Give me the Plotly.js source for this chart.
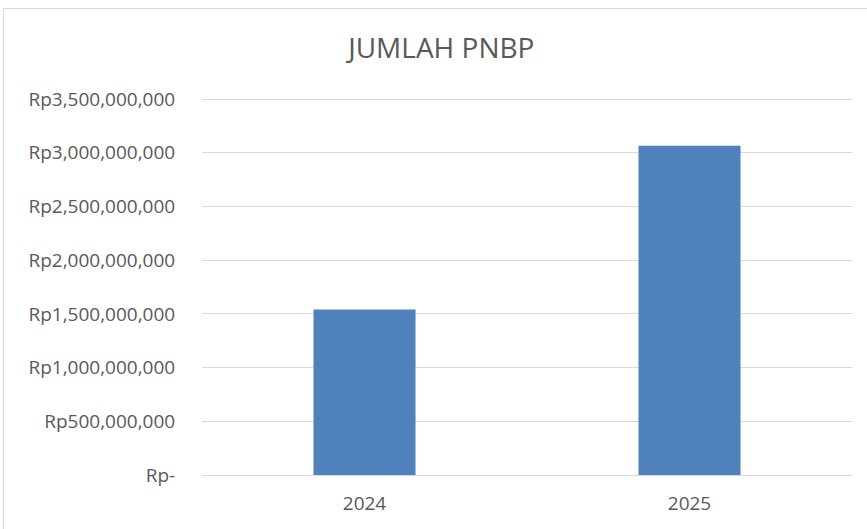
<!DOCTYPE html>
<html>
<head>
<meta charset="utf-8">
<script src="https://cdn.plot.ly/plotly-3.0.1.min.js"></script>
<style>
  html, body { margin: 0; padding: 0; background: #ffffff; overflow: hidden; }
  #chart { position: absolute; left: 0; top: 0; width: 867px; height: 529px; }
  #frame { position: absolute; left: 3px; top: 8px; width: 880px; height: 540px;
           border-left: 1px solid #d9d9d9; border-top: 1px solid #d9d9d9;
           pointer-events: none; }
</style>
</head>
<body>
<div id="chart"></div>
<div id="frame"></div>
<script>
const categories = ["2024", "2025"];
const values = [1540000000, 3065000000];
const tickValues = [0, 500000000, 1000000000, 1500000000, 2000000000, 2500000000, 3000000000, 3500000000];
const tickLabels = ["Rp-", "Rp500,000,000", "Rp1,000,000,000", "Rp1,500,000,000", "Rp2,000,000,000", "Rp2,500,000,000", "Rp3,000,000,000", "Rp3,500,000,000"];
const chartTitle = "JUMLAH PNBP";

const trace = {
  type: "bar",
  x: categories,
  y: values,
  marker: { color: "#4f81bd" },
  hoverinfo: "none"
};

const layout = {
  width: 867,
  height: 529,
  margin: { l: 202, r: 15, t: 98, b: 54 },
  paper_bgcolor: "rgba(0,0,0,0)",
  plot_bgcolor: "#ffffff",
  bargap: 0.686,
  showlegend: false,
  font: { family: "Open Sans, sans-serif", color: "#595959" },
  title: {
    text: chartTitle,
    font: { family: "Open Sans, sans-serif", size: 28, color: "#595959" },
    xref: "container", yref: "container",
    x: 0.509, y: 0.909, xanchor: "center", yanchor: "middle"
  },
  xaxis: {
    type: "category",
    showgrid: false,
    showline: true,
    linecolor: "#d9d9d9",
    linewidth: 1,
    ticks: "outside",
    ticklen: 11,
    tickcolor: "rgba(0,0,0,0)",
    tickfont: { size: 19, color: "#595959" },
    zeroline: false
  },
  yaxis: {
    range: [0, 3510000000],
    tickvals: tickValues,
    ticktext: tickLabels,
    showgrid: true,
    gridcolor: "#d9d9d9",
    gridwidth: 1,
    zeroline: false,
    showline: false,
    ticks: "outside",
    ticklen: 22,
    tickcolor: "rgba(0,0,0,0)",
    tickfont: { size: 19, color: "#595959" }
  }
};

Plotly.newPlot("chart", [trace], layout, { displayModeBar: false, staticPlot: true });
</script>
</body>
</html>
